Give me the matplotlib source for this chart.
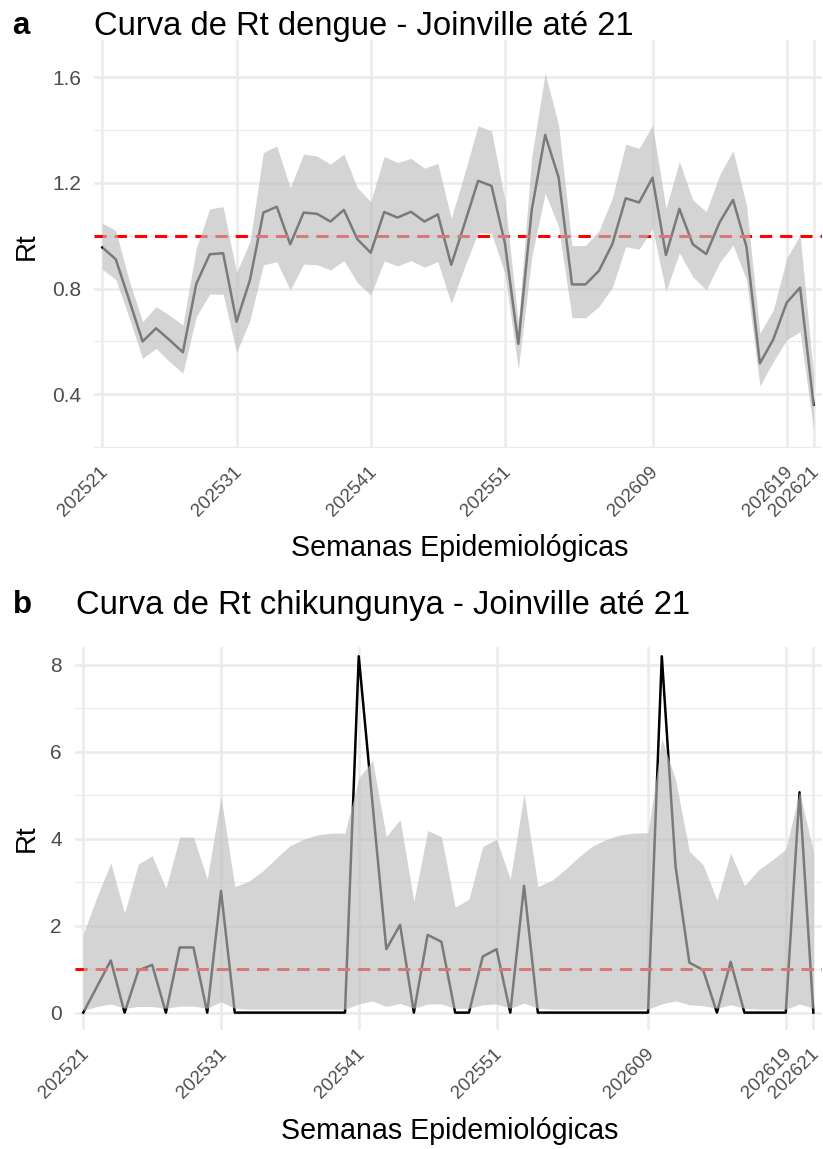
import matplotlib
matplotlib.use("Agg")
import matplotlib.pyplot as plt
import matplotlib.transforms as mtransforms

plt.rcParams['font.family'] = ['Liberation Sans', 'DejaVu Sans']

# semanas epidemiologicas 202521 .. 202621 (2025 tem 53 semanas)
weeks = [f"2025{w:02d}" for w in range(21, 54)] + [f"2026{w:02d}" for w in range(1, 22)]
tick_weeks = ["202521", "202531", "202541", "202551", "202609", "202619", "202621"]

# dengue
rt_dengue = [0.956, 0.911, 0.757, 0.600, 0.650, 0.606, 0.559, 0.818, 0.930, 0.934,
             0.675, 0.833, 1.088, 1.110, 0.968, 1.088, 1.083, 1.054, 1.098, 0.987,
             0.936, 1.090, 1.069, 1.091, 1.054, 1.081, 0.890, 1.047, 1.208, 1.189,
             0.972, 0.591, 1.098, 1.382, 1.221, 0.816, 0.816, 0.867, 0.968, 1.142,
             1.126, 1.220, 0.927, 1.102, 0.968, 0.931, 1.051, 1.136, 0.959, 0.517,
             0.608, 0.747, 0.804, 0.360]
upper_dengue = [1.047, 1.020, 0.830, 0.675, 0.732, 0.700, 0.662, 0.953, 1.102, 1.110,
                0.861, 0.978, 1.315, 1.340, 1.182, 1.309, 1.302, 1.271, 1.309, 1.182,
                1.129, 1.300, 1.277, 1.293, 1.256, 1.274, 1.066, 1.237, 1.416, 1.397,
                1.136, 0.670, 1.300, 1.615, 1.419, 0.963, 0.963, 1.018, 1.142, 1.346,
                1.331, 1.419, 1.104, 1.281, 1.136, 1.091, 1.230, 1.322, 1.117, 0.631,
                0.719, 0.915, 1.003, 0.473]
lower_dengue = [0.873, 0.835, 0.690, 0.536, 0.574, 0.524, 0.480, 0.694, 0.779, 0.779,
                0.558, 0.681, 0.890, 0.902, 0.795, 0.893, 0.890, 0.871, 0.906, 0.823,
                0.776, 0.905, 0.886, 0.906, 0.881, 0.902, 0.744, 0.883, 1.012, 1.009,
                0.858, 0.495, 0.921, 1.161, 1.035, 0.690, 0.690, 0.732, 0.804, 0.959,
                0.949, 1.028, 0.789, 0.936, 0.845, 0.795, 0.898, 0.965, 0.833, 0.432,
                0.524, 0.606, 0.637, 0.265]

# chikungunya
rt_chik = [0, 0.6, 1.2, 0, 0.97, 1.1, 0, 1.5, 1.5, 0,
           2.8, 0, 0, 0, 0, 0, 0, 0, 0, 0,
           8.2, 4.8, 1.46, 2.02, 0, 1.79, 1.63, 0, 0, 1.29,
           1.46, 0, 2.92, 0, 0, 0, 0, 0, 0, 0,
           0, 0, 8.2, 3.36, 1.15, 0.98, 0, 1.17, 0, 0,
           0, 0, 5.07, 0]
upper_chik = [1.81, 2.67, 3.44, 2.29, 3.42, 3.61, 2.86, 4.04, 4.04, 3.07,
              4.97, 2.90, 3.02, 3.25, 3.55, 3.84, 3.99, 4.09, 4.13, 4.13,
              5.40, 5.80, 4.05, 4.44, 2.56, 4.19, 4.05, 2.43, 2.61, 3.82,
              3.99, 3.07, 5.03, 2.90, 3.04, 3.30, 3.59, 3.84, 3.99, 4.09,
              4.13, 4.14, 6.30, 5.36, 3.71, 3.40, 2.59, 3.67, 2.92, 3.28,
              3.51, 3.76, 5.09, 3.71]
lower_chik = [0.05, 0.14, 0.20, 0.10, 0.14, 0.14, 0.10, 0.15, 0.15, 0.10,
              0.25, 0.10, 0.08, 0.08, 0.08, 0.08, 0.08, 0.08, 0.08, 0.08,
              0.20, 0.27, 0.14, 0.21, 0.10, 0.20, 0.20, 0.10, 0.10, 0.18,
              0.20, 0.10, 0.22, 0.10, 0.08, 0.08, 0.08, 0.08, 0.08, 0.08,
              0.08, 0.08, 0.20, 0.27, 0.18, 0.16, 0.10, 0.18, 0.10, 0.08,
              0.08, 0.08, 0.20, 0.10]

W, H = 823, 1149
fig = plt.figure(figsize=(W / 100, H / 100), dpi=100)

x = list(range(len(weeks)))
tick_pos = [weeks.index(w) for w in tick_weeks]
nudge = mtransforms.ScaledTranslation(-3 / 100, 0, fig.dpi_scale_trans)


def panel(rect, rt, lo, hi, ylim, yticks, yminor):
    l, t, r, b = rect
    ax = fig.add_axes([l / W, 1 - b / H, (r - l) / W, (b - t) / H])
    for s in ax.spines.values():
        s.set_visible(False)
    ax.set_xlim(-0.6, len(weeks) - 1 + 0.6)
    ax.set_ylim(*ylim)
    ax.set_yticks(yticks)
    ax.set_yticks(yminor, minor=True)
    ax.set_xticks(tick_pos)
    ax.set_xticklabels(tick_weeks, rotation=45, ha='right', va='top',
                       rotation_mode='anchor')
    ax.tick_params(axis='both', which='both', length=0, labelcolor='#4D4D4D')
    ax.tick_params(axis='y', pad=9.5, labelsize=15)
    ax.tick_params(axis='x', pad=11, labelsize=13.5)
    for lab in ax.get_xticklabels():
        lab.set_transform(lab.get_transform() + nudge)
    ax.grid(True, which='major', color='#EBEBEB', lw=1.8, zorder=0)
    ax.grid(True, which='minor', axis='y', color='#EBEBEB', lw=0.9, zorder=0)
    ax.set_axisbelow(True)
    ax.plot(x, rt, color='black', lw=1.8, zorder=2)
    ax.axhline(1, color='red', lw=2.2, ls=(0, (4, 2.6)), zorder=3)
    ax.fill_between(x, lo, hi, color='#BDBDBD', alpha=0.65, lw=0, zorder=4)
    return ax


ax1 = panel((94.3, 40, 821.6, 447.7), rt_dengue, lower_dengue, upper_dengue,
            (0.198, 1.741), [0.4, 0.8, 1.2, 1.6], [0.2, 0.6, 1.0, 1.4])
ax2 = panel((75, 646.7, 821.6, 1030), rt_chik, lower_chik, upper_chik,
            (-0.40, 8.42), [0, 2, 4, 6, 8], [1, 3, 5, 7])

# titulos e tags
fig.text(94.5 / W, 1 - 35 / H, "Curva de Rt dengue - Joinville até 21",
         fontsize=23.6, ha='left', va='baseline')
fig.text(12 / W, 1 - 34 / H, "a", fontsize=22.5, fontweight='bold',
         ha='left', va='baseline')
fig.text(75.5 / W, 1 - 614 / H, "Curva de Rt chikungunya - Joinville até 21",
         fontsize=23.6, ha='left', va='baseline')
fig.text(13 / W, 1 - 613.3 / H, "b", fontsize=22.5, fontweight='bold',
         ha='left', va='baseline')

# eixos
fig.text(27 / W, 1 - 246 / H, "Rt", fontsize=20, rotation=90,
         ha='center', va='center')
fig.text(27 / W, 1 - 838 / H, "Rt", fontsize=20, rotation=90,
         ha='center', va='center')
fig.text(460 / W, 1 - 548 / H, "Semanas Epidemiológicas", fontsize=20.6,
         ha='center', va='center')
fig.text(450 / W, 1 - 1131 / H, "Semanas Epidemiológicas", fontsize=20.6,
         ha='center', va='center')

fig.savefig("out.png", dpi=100, facecolor='white')
